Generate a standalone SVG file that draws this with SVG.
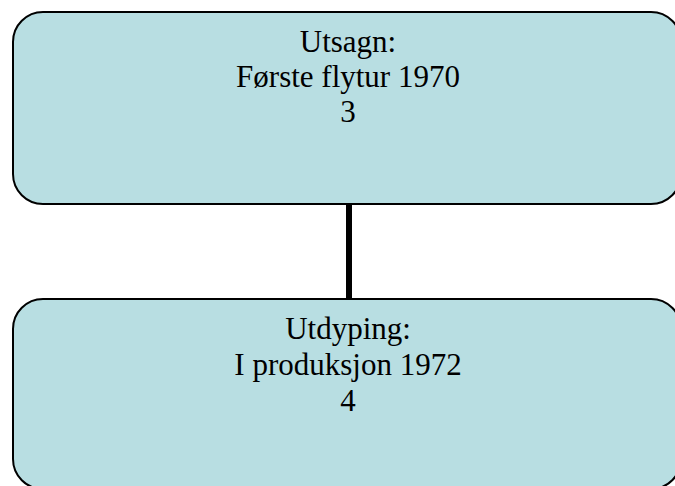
<svg xmlns="http://www.w3.org/2000/svg" width="675" height="486" viewBox="0 0 675 486">
  <style>
    .box { fill: #B8DEE2; stroke: #000; stroke-width: 2; }
    .label { font-family: "Liberation Serif", "Times New Roman", serif; font-size: 31px; fill: #000; text-anchor: middle; }
    .link { stroke: #000; stroke-width: 6; fill: none; }
  </style>
  <rect width="675" height="486" fill="#fff"/>
  <g id="connectors">
    <line class="link" x1="349" y1="204" x2="349" y2="299"/>
  </g>
  <g id="node-utsagn">
    <rect class="box" x="13" y="12" width="668" height="192" rx="30" ry="30"/>
    <text class="label" x="348" y="52">Utsagn:</text>
    <text class="label" x="348" y="87">Første flytur 1970</text>
    <text class="label" x="348" y="122">3</text>
  </g>
  <g id="node-utdyping">
    <rect class="box" x="13" y="299" width="668" height="190" rx="30" ry="30"/>
    <text class="label" x="348" y="339">Utdyping:</text>
    <text class="label" x="348" y="375">I produksjon 1972</text>
    <text class="label" x="348" y="411">4</text>
  </g>
</svg>
